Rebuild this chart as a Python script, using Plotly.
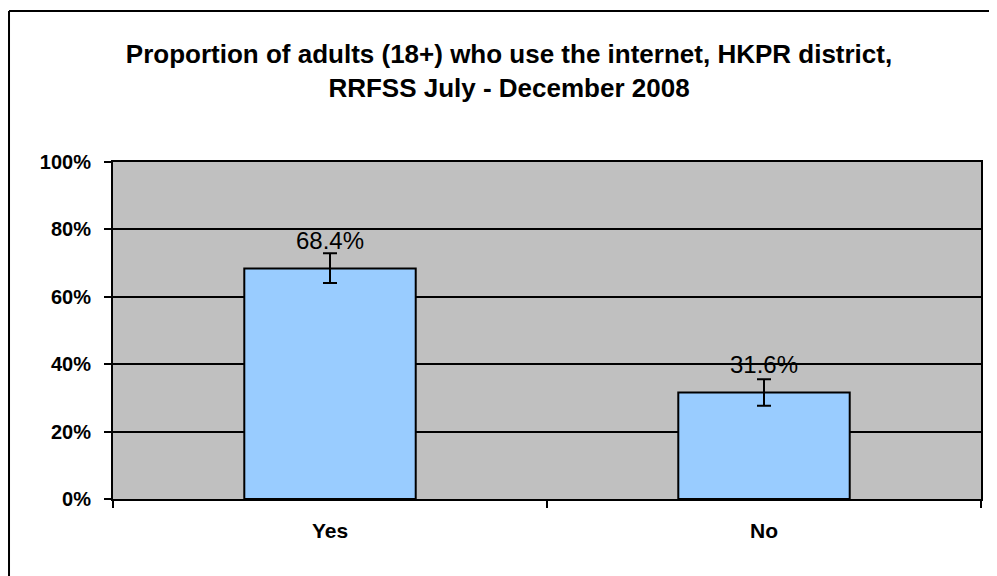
""" Internet use among adults, HKPR district """
import plotly.graph_objects as go

answers = ['Yes', 'No']
percent = [68.4, 31.6]
ci_plus = [4.5, 3.9]
ci_minus = [4.3, 3.9]
labels = ['68.4%', '31.6%']
y_ticks = [0, 20, 40, 60, 80, 100]

font = 'Liberation Sans'

fig = go.Figure()
fig.add_trace(go.Bar(
    x=answers,
    y=percent,
    width=0.395,
    marker=dict(color='#99CCFF', line=dict(color='black', width=2)),
    error_y=dict(type='data', array=ci_plus, arrayminus=ci_minus,
                 color='black', thickness=2, width=7),
    hoverinfo='skip',
))

for a, p, lab in zip(answers, percent, labels):
    fig.add_annotation(x=a, y=p, text=lab, showarrow=False, yshift=28,
                       font=dict(family=font, size=24, color='black'))

# page body has an 8px margin, so the figure is a bit smaller than the window
fig.update_layout(
    width=989, height=568,
    margin=dict(l=105, r=16, t=154, b=77),
    paper_bgcolor='white',
    plot_bgcolor='#C0C0C0',
    showlegend=False,
    title=dict(
        text='<b>Proportion of adults (18+) who use the internet, HKPR district,<br>'
             'RRFSS July - December 2008</b>',
        x=0.5066, xanchor='center', y=0.903, yanchor='middle',
        font=dict(family=font, size=26, color='black')),
    font=dict(family=font, color='black'),
)
fig.update_yaxes(
    range=[0, 100],
    tickvals=y_ticks,
    ticktext=['<b>%d%%</b>' % v for v in y_ticks],
    tickfont=dict(size=20),
    ticks='outside', ticklen=7, tickwidth=2, tickcolor='black',
    ticklabelstandoff=9,
    showgrid=True, gridcolor='black', gridwidth=2,
    showline=True, linecolor='black', linewidth=2, mirror=True,
    zeroline=False, fixedrange=True,
)
fig.update_xaxes(
    tickson='boundaries',
    ticks='outside', ticklen=7, tickwidth=2, tickcolor='black',
    ticktext=['<b>%s</b>' % a for a in answers], tickvals=answers,
    tickfont=dict(size=21),
    ticklabelstandoff=12,
    showgrid=False,
    showline=True, linecolor='black', linewidth=2, mirror=True,
    fixedrange=True,
)

# chart frame (left and top edges visible, rest runs off the picture)
fig.add_shape(type='line', xref='paper', yref='paper',
              x0=-0.1198, x1=1.1, y0=1.448, y1=1.448,
              line=dict(color='black', width=2))
fig.add_shape(type='line', xref='paper', yref='paper',
              x0=-0.1198, x1=-0.1198, y0=1.448, y1=-0.4,
              line=dict(color='black', width=2))

fig.write_html("out.html")
